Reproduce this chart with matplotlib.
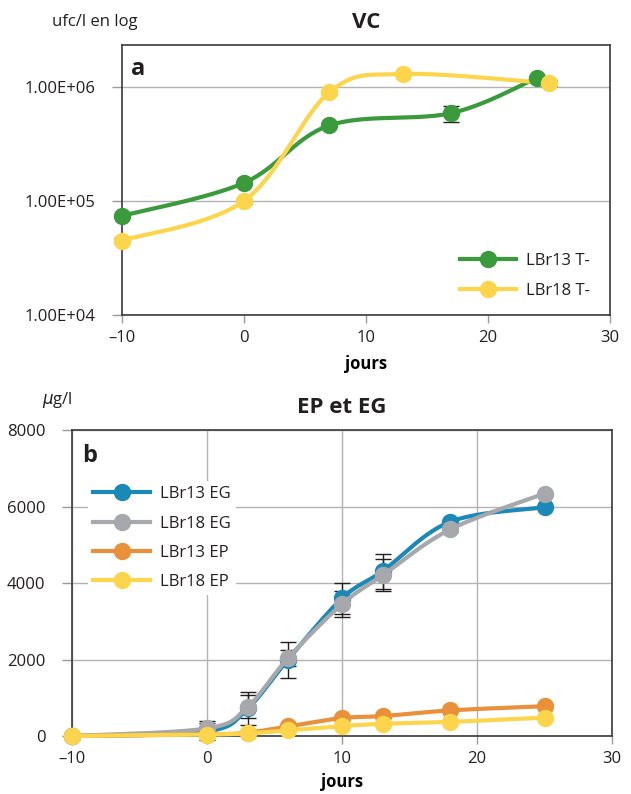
import numpy as np
import matplotlib.pyplot as plt
from matplotlib.ticker import FixedLocator, FuncFormatter, NullLocator

plt.rcParams['font.family'] = ['Open Sans', 'DejaVu Sans']
plt.rcParams['text.color'] = '#231f20'
plt.rcParams['xtick.color'] = '#9a9a9a'
plt.rcParams['ytick.color'] = '#9a9a9a'
plt.rcParams['xtick.labelcolor'] = '#231f20'
plt.rcParams['ytick.labelcolor'] = '#231f20'

# panel a : VC (ufc/l, log)
jours_13t = [-10, 0, 7, 17, 24]
vc_13t = [7.4e4, 1.44e5, 4.6e5, 5.9e5, 1.2e6]
err_13t = [3e3, 6e3, 1.5e4, 9.5e4, 4e4]
jours_18t = [-10, 0, 7, 13, 25]
vc_18t = [4.5e4, 1.0e5, 9.0e5, 1.3e6, 1.08e6]
err_18t = [2e3, 5e3, 3e4, 2e4, 6e4]

# panel b : EP et EG (µg/l)
jours_b = [-10, 0, 3, 6, 10, 13, 18, 25]
eg_13 = [0, 120, 720, 2000, 3600, 4310, 5600, 5980]
eg_13_err = [0, 230, 420, 470, 400, 460, 60, 0]
eg_18 = [0, 200, 760, 2040, 3450, 4200, 5400, 6340]
eg_18_err = [0, 200, 300, 200, 350, 420, 60, 0]
ep_13 = [0, 40, 90, 250, 470, 520, 670, 780]
ep_18 = [0, 40, 70, 150, 260, 320, 370, 480]

GREEN = '#3a9a3c'
YELLOW = '#fdd54c'
BLUE = '#1a89b8'
GREY = '#a7a8ab'
ORANGE = '#e8913a'


def smooth(x, y, sx, sy, n=40):
    # cubic Bezier through the points, like spreadsheet "smoothed lines"
    p = np.column_stack([np.asarray(x, float) / sx, np.asarray(y, float) / sy])
    ext = np.vstack([p[0], p, p[-1]])
    segs = []
    t = np.linspace(0, 1, n)[:, None]
    for i in range(len(p) - 1):
        p0, p1, p2, p3 = ext[i], ext[i + 1], ext[i + 2], ext[i + 3]
        c1 = p1 + (p2 - p0) / 6
        c2 = p2 - (p3 - p1) / 6
        segs.append((1 - t) ** 3 * p1 + 3 * (1 - t) ** 2 * t * c1
                    + 3 * (1 - t) * t ** 2 * c2 + t ** 3 * p2)
    pts = np.vstack(segs)
    return pts[:, 0] * sx, pts[:, 1] * sy


fig = plt.figure(figsize=(6.31, 7.94), dpi=100)

# ---- a ----
ax1 = fig.add_axes([0.1933, 0.6033, 0.7734, 0.34])
ytop = 10 ** 6.368
for xs, ys, es, c, lab in [(jours_13t, vc_13t, err_13t, GREEN, 'LBr13 T-'),
                           (jours_18t, vc_18t, err_18t, YELLOW, 'LBr18 T-')]:
    sxv, syv = smooth(xs, np.log10(ys), 40 / 488, 2.368 / 270)
    ax1.errorbar(xs, ys, yerr=es, fmt='none', ecolor='#231f20', elinewidth=1,
                 capsize=6, capthick=1, zorder=2, clip_on=False)
    ax1.plot(sxv, 10 ** syv, color=c, lw=3, zorder=3, clip_on=False)
    ax1.plot(xs, ys, 'o', color=c, ms=11.5, zorder=4, clip_on=False)
    ax1.plot([], [], '-o', color=c, lw=3, ms=11.5, label=lab)

ax1.set_yscale('log')
ax1.set_xlim(-10, 30)
ax1.set_ylim(1e4, ytop)
ax1.yaxis.set_major_locator(FixedLocator([1e4, 1e5, 1e6]))
ax1.yaxis.set_minor_locator(NullLocator())
ax1.yaxis.set_major_formatter(FuncFormatter(lambda v, p: '{:.2E}'.format(v)))
ax1.set_xticks([-10, 0, 10, 20, 30])
ax1.set_xticklabels(['\u201310', '0', '10', '20', '30'])
ax1.grid(axis='y', color='#b3b3b3', lw=1)
ax1.tick_params(axis='y', length=7, width=1, pad=12, labelsize=12)
ax1.tick_params(axis='x', length=6, width=1, pad=5, labelsize=12)
for s in ax1.spines.values():
    s.set_color('#3a3a3a')
    s.set_linewidth(1.2)
ax1.set_xlabel('jours', fontsize=12, fontweight='bold', labelpad=6)
ax1.set_title('VC', fontsize=16, fontweight='bold', pad=12)
ax1.text(0.018, 0.955, 'a', transform=ax1.transAxes, fontsize=17,
         fontweight='bold', va='top', ha='left')
fig.text(0.083, 0.972, 'ufc/l en log', fontsize=12, ha='left', va='center')
leg1 = ax1.legend(loc='lower right', frameon=False, fontsize=12,
                  handlelength=3.4, handletextpad=0.6,
                  bbox_to_anchor=(0.99, 0.005), labelspacing=0.8)

# ---- b ----
ax2 = fig.add_axes([0.1141, 0.073, 0.8559, 0.3854])
series_b = [(eg_13, eg_13_err, BLUE, 'LBr13 EG'),
            (eg_18, eg_18_err, GREY, 'LBr18 EG'),
            (ep_13, None, ORANGE, 'LBr13 EP'),
            (ep_18, None, YELLOW, 'LBr18 EP')]
for k, (ys, es, c, lab) in enumerate(series_b):
    sxv, syv = smooth(jours_b, ys, 40 / 540, 8000 / 306)
    if es is not None:
        ax2.errorbar(jours_b, ys, yerr=es, fmt='none', ecolor='#231f20',
                     elinewidth=1, capsize=6, capthick=1, zorder=2,
                     clip_on=False)
    ax2.plot(sxv, syv, color=c, lw=3, zorder=3 + k, clip_on=False)
    ax2.plot(jours_b, ys, 'o', color=c, ms=11.5, zorder=3 + k, clip_on=False)
    ax2.plot([], [], '-o', color=c, lw=3, ms=11.5, label=lab)

ax2.set_xlim(-10, 30)
ax2.set_ylim(0, 8000)
ax2.set_xticks([-10, 0, 10, 20, 30])
ax2.set_xticklabels(['\u201310', '0', '10', '20', '30'])
ax2.set_yticks([0, 2000, 4000, 6000, 8000])
ax2.grid(True, color='#b3b3b3', lw=1)
ax2.set_axisbelow(True)
ax2.tick_params(axis='y', length=7, width=1, pad=12, labelsize=12)
ax2.tick_params(axis='x', length=6, width=1, pad=5, labelsize=12)
for s in ax2.spines.values():
    s.set_color('#3a3a3a')
    s.set_linewidth(1.2)
ax2.set_xlabel('jours', fontsize=12, fontweight='bold', labelpad=4)
ax2.set_title('EP et EG', fontsize=16, fontweight='bold', pad=12)
ax2.text(0.018, 0.955, 'b', transform=ax2.transAxes, fontsize=17,
         fontweight='bold', va='top', ha='left')
fig.text(0.066, 0.496, r'$\mu$g/l', fontsize=12, ha='left', va='center')
leg2 = ax2.legend(loc='upper left', bbox_to_anchor=(0.015, 0.86), fontsize=12,
                  handlelength=3.4, handletextpad=0.6, labelspacing=0.8,
                  frameon=True, fancybox=False, edgecolor='none', framealpha=1,
                  borderpad=0.3)

fig.savefig('out.png', dpi=100)
